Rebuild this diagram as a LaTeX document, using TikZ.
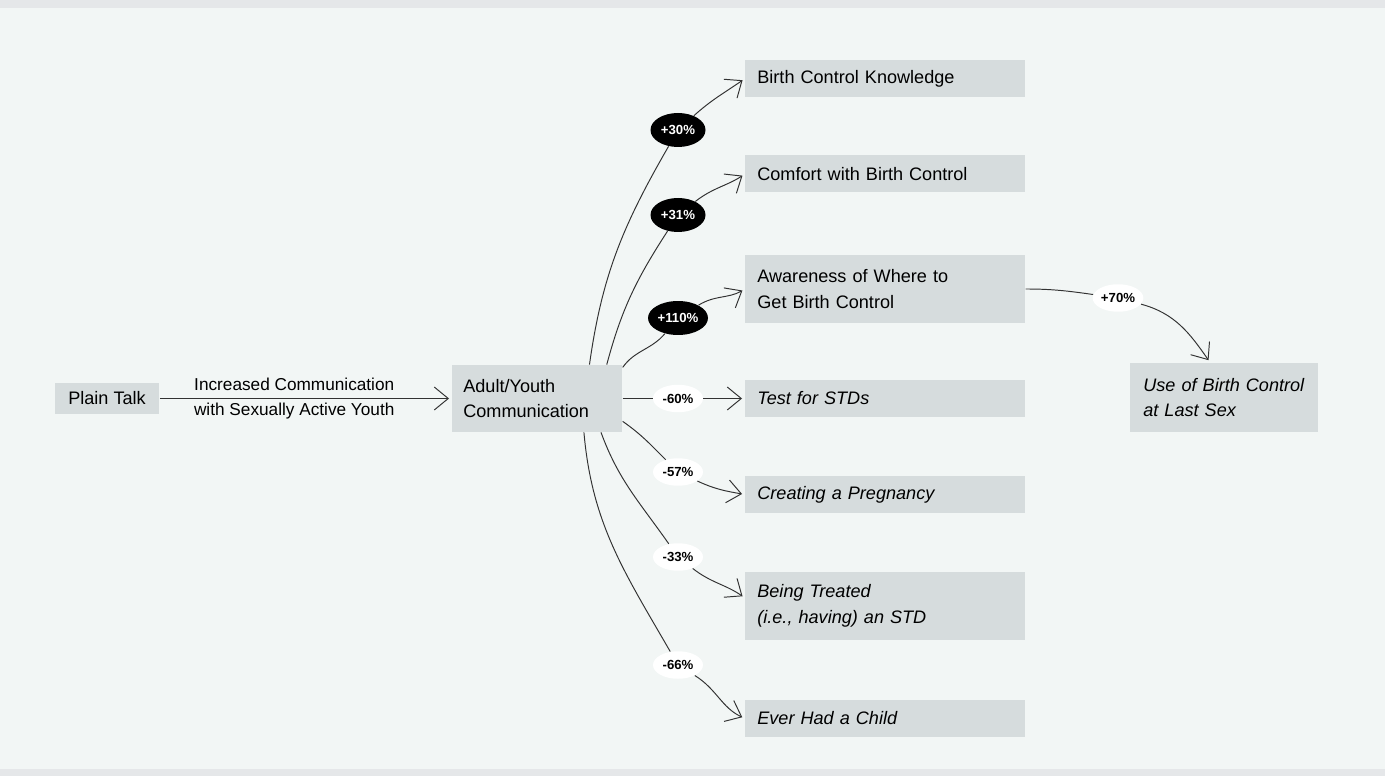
\documentclass[tikz,border=0pt]{standalone}
\usepackage{fontspec}
\setmainfont{Liberation Sans}
\usetikzlibrary{arrows.meta,shapes.geometric}
\definecolor{bggrey}{RGB}{242,246,245}
\definecolor{bandgrey}{RGB}{229,231,233}
\definecolor{boxgrey}{RGB}{214,220,221}
\definecolor{linegrey}{RGB}{50,50,50}
\tikzset{
	box/.style={fill=boxgrey, anchor=west, align=left, text width=5.12cm, inner xsep=0.24cm, inner ysep=0.18cm, minimum height=0.74cm, font=\fontsize{10.3}{14.7}\selectfont},
	tallbox/.style={box, minimum height=1.36cm},
	link/.style={draw=linegrey, line width=0.55pt, shorten >=0.06cm, -{Straight Barb[length=0.28cm,width=0.46cm]}},
	plus/.style={ellipse, fill=black, text=white, inner sep=0.5pt, minimum width=1.1cm, minimum height=0.68cm, font=\fontsize{7.5}{8}\selectfont\bfseries},
	minus/.style={ellipse, fill=white, inner sep=0.5pt, minimum width=1.0cm, minimum height=0.55cm, font=\fontsize{7.5}{8}\selectfont\bfseries},
}

\begin{document}
\begin{tikzpicture}[x=0.02cm, y=0.02cm]
		%%%%% START %%%%%
		\useasboundingbox (0, 0) rectangle (1385, -776);
		\fill[bggrey] (0, 0) rectangle (1385, -776);
		\fill[bandgrey] (0, 0) rectangle (1385, -8);
		\fill[bandgrey] (0, -769) rectangle (1385, -776);
		
		\node[fill=boxgrey, minimum width=2.1cm, minimum height=0.64cm, font=\fontsize{10.3}{12}\selectfont] (plain) at (107, -398.5) {Plain Talk};
		\node[box, text width=2.96cm, inner xsep=0.22cm, minimum height=1.34cm] (ay) at (452, -398.5) {Adult/Youth\\Communication};
		
		\node[box] (know) at (745, -78.5) {Birth Control Knowledge};
		\node[box] (comfort) at (745, -174) {Comfort with Birth Control};
		\node[tallbox] (aware) at (745, -289) {Awareness of Where to\\Get Birth Control};
		\node[box, font=\fontsize{10.3}{14.7}\selectfont\itshape] (test) at (745, -398.5) {Test for STDs};
		\node[box, font=\fontsize{10.3}{14.7}\selectfont\itshape] (preg) at (745, -494.5) {Creating a Pregnancy};
		\node[tallbox, font=\fontsize{10.3}{14.7}\selectfont\itshape] (treat) at (745, -606) {Being Treated\\(i.e., having) an STD};
		\node[box, font=\fontsize{10.3}{14.7}\selectfont\itshape] (child) at (745, -718.5) {Ever Had a Child};
		\node[box, text width=3.24cm, inner xsep=0.26cm, minimum height=1.38cm, font=\fontsize{10.3}{14.7}\selectfont\itshape] (use) at (1130, -397.5) {Use of Birth Control\\at Last Sex};
		
		\node[plus] (p1) at (678, -130) {+30\%};
		\node[plus] (p2) at (678, -215) {+31\%};
		\node[plus] (p3) at (678, -318) {+110\%};
		\node[minus] (m1) at (678, -398.5) {-60\%};
		\node[minus] (m2) at (678, -472) {-57\%};
		\node[minus] (m3) at (678, -557) {-33\%};
		\node[minus] (m4) at (678, -665) {-66\%};
		\node[minus] (p4) at (1118, -298) {+70\%};
		
		\draw[link] (plain) -- node[pos=0.46, align=center, font=\fontsize{9.8}{14.7}\selectfont] {Increased Communication\\with Sexually Active Youth} (ay);
		
		\draw[link] (ay.33) to[out=82, in=240] (p1) to[out=42, in=215] (know.west);
		\draw[link] (ay.26) to[out=75, in=237] (p2) to[out=38, in=213] (comfort.west);
		\draw[link] (ay.20) to[out=55, in=230] (p3) to[out=32, in=210] (aware.west);
		\draw[link] (ay.east) -- (m1) -- (test.west);
		\draw[link] (ay.-15) to[out=-35, in=135] (m2) to[out=-25, in=170] (preg.west);
		\draw[link] (ay.-28) to[out=-70, in=125] (m3) to[out=-38, in=145] ([yshift=0.16cm]treat.west);
		\draw[link] (ay.-36) to[out=-85, in=120] (m4) to[out=-32, in=155] (child.west);
		\draw[link] (aware.east) to[out=0, in=172] (p4) to[out=-15, in=125] (use.112);
		%%%%% END %%%%%
	\end{tikzpicture}
\end{document}
